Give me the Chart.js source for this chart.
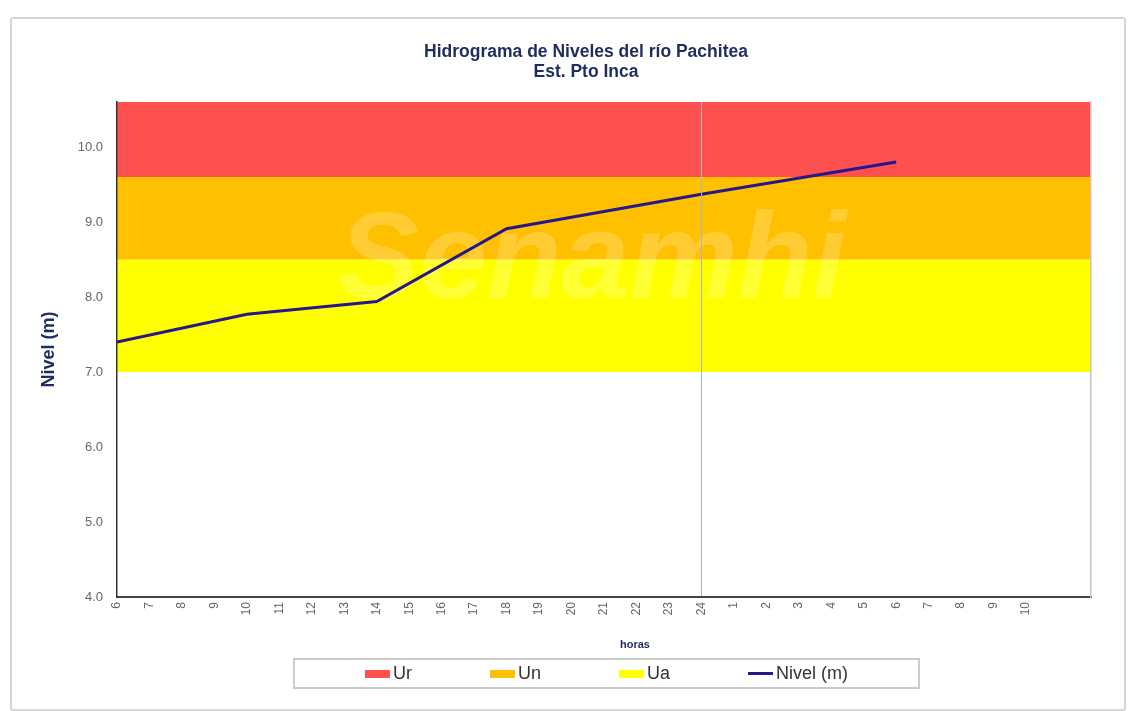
<!DOCTYPE html>
<html>
<head>
<meta charset="utf-8">
<title>Hidrograma de Niveles del río Pachitea</title>
<script src="https://cdn.jsdelivr.net/npm/chart.js@4"></script>
<style>
  html, body { margin: 0; padding: 0; background: #fff; }
  body { width: 1135px; height: 711px; position: relative; overflow: hidden; font-family: "Liberation Sans", Arial, sans-serif; }
  #frame { position: absolute; left: 10px; top: 17px; width: 1112px; height: 690px; border: 2px solid #d6d6d6; border-radius: 3px; }
  #wrap { position: absolute; left: 37px; top: 0; width: 1098px; height: 711px; }
  #legend { position: absolute; left: 293px; top: 658px; width: 623px; height: 27px; border: 2px solid #cbcbcb;
            display: flex; justify-content: center; align-items: center; gap: 78px; font-size: 18px; color: #333; }
  #legend .item { display: flex; align-items: center; gap: 3px; }
  #legend .swatch { width: 25px; height: 8px; }
  #legend .swatch.line { height: 3px; }
</style>
</head>
<body>
<div id="frame"></div>
<div id="wrap"><canvas id="myChart"></canvas></div>
<div id="legend"></div>

<script>
/* data */

// hours on the x axis (two empty slots at the end)
const hours = ['6', '7', '8', '9', '10', '11', '12', '13', '14', '15', '16', '17', '18', '19', '20',
  '21', '22', '23', '24', '1', '2', '3', '4', '5', '6', '7', '8', '9', '10', '', ''];

// river level readings (m), aligned with hours
const nivel = [7.40, null, null, null, 7.77, null, null, null, 7.94, null, null, null, 8.91,
  null, null, null, null, null, 9.37, null, null, null, null, null, 9.80];

// alert bands [from, to]
const bandUr = [9.6, 10.6];
const bandUn = [8.5, 9.6];
const bandUa = [7.0, 8.5];

// y axis range
const yMin = 4.0;
const yMax = 10.6;
const yStep = 1;

const lastX = hours.length - 1;
const FONT = '"Liberation Sans", Arial, sans-serif';

function band(label, range, color) {
  return {
    label: label,
    data: [{ x: 0, y: range[1] }, { x: lastX, y: range[1] }],
    fill: { target: { value: range[0] } },
    backgroundColor: color,
    borderColor: 'rgba(0,0,0,0)',
    borderWidth: 0,
    pointRadius: 0,
    order: 1
  };
}

// faint watermark behind the level line + x axis title
const extras = {
  id: 'extras',
  beforeDatasetDraw(chart, args) {
    if (args.index !== 3) return;
    const ctx = chart.ctx;
    ctx.save();
    ctx.fillStyle = 'rgba(255,255,255,0.2)';
    ctx.font = 'italic bold 122px ' + FONT;
    ctx.textAlign = 'center';
    ctx.textBaseline = 'alphabetic';
    ctx.fillText('Senamhi', 592 - 37, 298);
    ctx.restore();
  },
  afterDraw(chart) {
    const a = chart.chartArea;
    const ctx = chart.ctx;
    ctx.save();
    ctx.fillStyle = '#1e2d5c';
    ctx.font = 'bold 11px ' + FONT;
    ctx.textAlign = 'center';
    ctx.textBaseline = 'middle';
    ctx.fillText('horas', (a.left + a.right) / 2 + 31, 645);
    ctx.restore();
  }
};

const ctx = document.getElementById('myChart').getContext('2d');

const chart = new Chart(ctx, {
  type: 'line',
  data: {
    datasets: [
      band('Ur', bandUr, '#ff5050'),
      band('Un', bandUn, '#ffc000'),
      band('Ua', bandUa, '#ffff00'),
      {
        label: 'Nivel (m)',
        data: nivel.map(function (v, i) { return { x: i, y: v }; }),
        borderColor: '#26188a',
        backgroundColor: '#26188a',
        borderWidth: 3,
        pointRadius: 0,
        spanGaps: true,
        fill: false,
        order: 0
      }
    ]
  },
  options: {
    responsive: true,
    maintainAspectRatio: false,
    animation: false,
    layout: { padding: { left: 0, right: 0, top: 0, bottom: 54 } },
    plugins: {
      legend: { display: false },
      tooltip: { enabled: false },
      title: {
        display: true,
        text: ['Hidrograma de Niveles del río Pachitea', 'Est. Pto Inca'],
        color: '#1e2d5c',
        font: { family: FONT, size: 17.5, weight: 'bold', lineHeight: 1.143 },
        padding: { top: 42, bottom: 20 }
      }
    },
    scales: {
      x: {
        type: 'linear',
        min: 0,
        max: lastX,
        afterFit: function (scale) { scale.height = 60; },
        ticks: {
          stepSize: 1,
          autoSkip: false,
          maxRotation: 90,
          minRotation: 90,
          padding: 5,
          color: '#666',
          font: { family: FONT, size: 12 },
          callback: function (v) { return hours[v] !== undefined ? hours[v] : ''; }
        },
        grid: {
          z: 1,
          drawTicks: false,
          lineWidth: 1,
          color: function (c) {
            return c.tick && c.tick.value === 18 ? '#a3b9cb' : 'rgba(0,0,0,0)';
          }
        },
        border: { display: true, color: '#444', width: 2, z: 1 }
      },
      y: {
        min: yMin,
        max: yMax,
        afterFit: function (scale) { scale.width = 80; },
        ticks: {
          stepSize: yStep,
          includeBounds: false,
          padding: 14,
          color: '#666',
          font: { family: FONT, size: 13 },
          callback: function (v) { return v.toFixed(1); }
        },
        grid: { display: false, drawTicks: false },
        border: { display: true, color: '#333', width: 1.5, z: 1 },
        title: {
          display: true,
          text: 'Nivel (m)',
          color: '#1e2d5c',
          font: { family: FONT, size: 18, weight: 'bold' },
          padding: { top: 1, bottom: 0 }
        }
      },
      // right frame of the plot, also keeps the right margin
      y2: {
        position: 'right',
        min: yMin,
        max: yMax,
        afterFit: function (scale) { scale.width = 44; },
        ticks: { display: false },
        grid: { display: false, drawTicks: false },
        border: { display: true, color: '#c4c4c4', width: 1.5, z: 1 }
      }
    }
  },
  plugins: [extras]
});

/* legend */

const legendBox = document.getElementById('legend');
chart.data.datasets.forEach(function (ds) {
  const item = document.createElement('div');
  item.className = 'item';
  const sw = document.createElement('span');
  sw.className = ds.fill === false ? 'swatch line' : 'swatch';
  sw.style.background = ds.fill === false ? ds.borderColor : ds.backgroundColor;
  const txt = document.createElement('span');
  txt.textContent = ds.label;
  item.appendChild(sw);
  item.appendChild(txt);
  legendBox.appendChild(item);
});
</script>
</body>
</html>
